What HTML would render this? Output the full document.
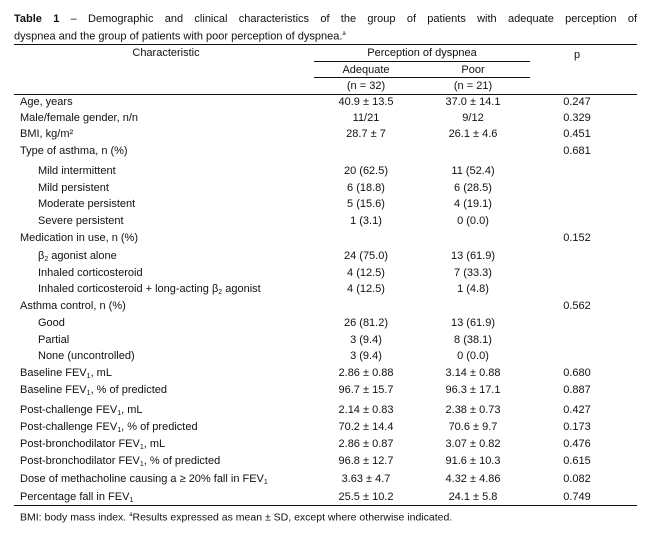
<!DOCTYPE html>
<html><head><meta charset="utf-8"><style>
body{margin:0;background:#fff;width:659px;height:537px;position:relative;font-family:"Liberation Sans",sans-serif;color:#111;font-size:11px;overflow:hidden}
.a{position:absolute;white-space:nowrap;line-height:16px}
.r{position:absolute;left:0;width:659px;height:16px}
.r span{position:absolute;line-height:16px;white-space:nowrap}
.l{left:20px}.i{left:38px}
.c1{left:316px;width:100px;text-align:center}
.c2{left:423px;width:100px;text-align:center}
.c3{left:547px;width:60px;text-align:center}
.h{position:absolute;height:1px;background:#111}
sub{font-size:7px;vertical-align:-2px;line-height:0}
</style></head><body>
<div class="a" style="left:14px;top:11px;width:623px;text-align:justify;text-align-last:justify;font-size:11px"><b>Table 1</b> – Demographic and clinical characteristics of the group of patients with adequate perception of</div>
<div class="a" style="left:14px;top:26px;font-size:11px">dyspnea and the group of patients with poor perception of dyspnea.<sup style="font-size:6px">a</sup></div>
<div class="h" style="left:14px;top:44px;width:623px"></div>
<div class="a" style="left:16px;top:45px;width:300px;text-align:center">Characteristic</div>
<div class="a" style="left:314px;top:45px;width:216px;text-align:center">Perception of dyspnea</div>
<div class="a c3" style="top:47px">p</div>
<div class="h" style="left:314px;top:61px;width:216px"></div>
<div class="a c1" style="top:62px">Adequate</div>
<div class="a c2" style="top:62px">Poor</div>
<div class="h" style="left:314px;top:77px;width:216px"></div>
<div class="a c1" style="top:78px">(n = 32)</div>
<div class="a c2" style="top:78px">(n = 21)</div>
<div class="h" style="left:14px;top:94px;width:623px"></div>

<div class="r" style="top:94px"><span class="l">Age, years</span><span class="c1">40.9 ± 13.5</span><span class="c2">37.0 ± 14.1</span><span class="c3">0.247</span></div>
<div class="r" style="top:110px"><span class="l">Male/female gender, n/n</span><span class="c1">11/21</span><span class="c2">9/12</span><span class="c3">0.329</span></div>
<div class="r" style="top:126px"><span class="l">BMI, kg/m²</span><span class="c1">28.7 ± 7</span><span class="c2">26.1 ± 4.6</span><span class="c3">0.451</span></div>
<div class="r" style="top:143px"><span class="l">Type of asthma, n (%)</span><span class="c3">0.681</span></div>
<div class="r" style="top:163px"><span class="i">Mild intermittent</span><span class="c1">20 (62.5)</span><span class="c2">11 (52.4)</span></div>
<div class="r" style="top:180px"><span class="i">Mild persistent</span><span class="c1">6 (18.8)</span><span class="c2">6 (28.5)</span></div>
<div class="r" style="top:196px"><span class="i">Moderate persistent</span><span class="c1">5 (15.6)</span><span class="c2">4 (19.1)</span></div>
<div class="r" style="top:213px"><span class="i">Severe persistent</span><span class="c1">1 (3.1)</span><span class="c2">0 (0.0)</span></div>
<div class="r" style="top:230px"><span class="l">Medication in use, n (%)</span><span class="c3">0.152</span></div>
<div class="r" style="top:248px"><span class="i">β<sub>2</sub> agonist alone</span><span class="c1">24 (75.0)</span><span class="c2">13 (61.9)</span></div>
<div class="r" style="top:265px"><span class="i">Inhaled corticosteroid</span><span class="c1">4 (12.5)</span><span class="c2">7 (33.3)</span></div>
<div class="r" style="top:281px"><span class="i">Inhaled corticosteroid + long-acting β<sub>2</sub> agonist</span><span class="c1">4 (12.5)</span><span class="c2">1 (4.8)</span></div>
<div class="r" style="top:298px"><span class="l">Asthma control, n (%)</span><span class="c3">0.562</span></div>
<div class="r" style="top:315px"><span class="i">Good</span><span class="c1">26 (81.2)</span><span class="c2">13 (61.9)</span></div>
<div class="r" style="top:332px"><span class="i">Partial</span><span class="c1">3 (9.4)</span><span class="c2">8 (38.1)</span></div>
<div class="r" style="top:348px"><span class="i">None (uncontrolled)</span><span class="c1">3 (9.4)</span><span class="c2">0 (0.0)</span></div>
<div class="r" style="top:365px"><span class="l">Baseline FEV<sub>1</sub>, mL</span><span class="c1">2.86 ± 0.88</span><span class="c2">3.14 ± 0.88</span><span class="c3">0.680</span></div>
<div class="r" style="top:382px"><span class="l">Baseline FEV<sub>1</sub>, % of predicted</span><span class="c1">96.7 ± 15.7</span><span class="c2">96.3 ± 17.1</span><span class="c3">0.887</span></div>
<div class="r" style="top:402px"><span class="l">Post-challenge FEV<sub>1</sub>, mL</span><span class="c1">2.14 ± 0.83</span><span class="c2">2.38 ± 0.73</span><span class="c3">0.427</span></div>
<div class="r" style="top:419px"><span class="l">Post-challenge FEV<sub>1</sub>, % of predicted</span><span class="c1">70.2 ± 14.4</span><span class="c2">70.6 ± 9.7</span><span class="c3">0.173</span></div>
<div class="r" style="top:436px"><span class="l">Post-bronchodilator FEV<sub>1</sub>, mL</span><span class="c1">2.86 ± 0.87</span><span class="c2">3.07 ± 0.82</span><span class="c3">0.476</span></div>
<div class="r" style="top:453px"><span class="l">Post-bronchodilator FEV<sub>1</sub>, % of predicted</span><span class="c1">96.8 ± 12.7</span><span class="c2">91.6 ± 10.3</span><span class="c3">0.615</span></div>
<div class="r" style="top:471px"><span class="l">Dose of methacholine causing a ≥ 20% fall in FEV<sub>1</sub></span><span class="c1">3.63 ± 4.7</span><span class="c2">4.32 ± 4.86</span><span class="c3">0.082</span></div>
<div class="r" style="top:489px"><span class="l">Percentage fall in FEV<sub>1</sub></span><span class="c1">25.5 ± 10.2</span><span class="c2">24.1 ± 5.8</span><span class="c3">0.749</span></div>
<div class="h" style="left:14px;top:505px;width:623px"></div>
<div class="a" style="left:20px;top:507px;font-size:10.5px">BMI: body mass index. <sup style="font-size:6px">a</sup>Results expressed as mean ± SD, except where otherwise indicated.</div>
</body></html>
